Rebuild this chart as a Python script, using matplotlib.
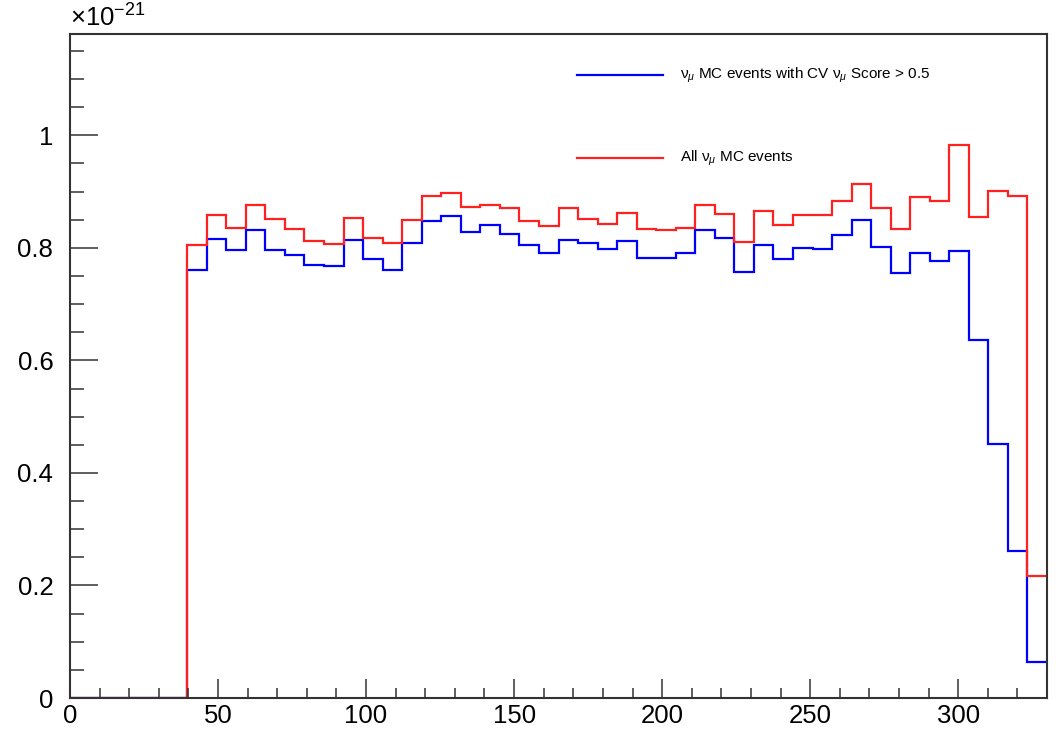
import numpy as np
import matplotlib
matplotlib.use('Agg')
import matplotlib.pyplot as plt
from matplotlib.ticker import MultipleLocator

plt.rcParams['font.family'] = ['Liberation Sans', 'DejaVu Sans']
plt.rcParams['mathtext.fontset'] = 'custom'
plt.rcParams['mathtext.rm'] = 'Liberation Sans'
plt.rcParams['mathtext.it'] = 'Liberation Sans:italic'

# --- histogram data (units of 1e-21), 50 bins from 0 to 330 ---
bin_edges = np.linspace(0, 330, 51)

all_events = [0, 0, 0, 0, 0, 0,
              0.805, 0.859, 0.836, 0.876, 0.851, 0.834, 0.812, 0.806, 0.853, 0.818,
              0.809, 0.850, 0.892, 0.898, 0.873, 0.877, 0.870, 0.847, 0.838, 0.870,
              0.852, 0.842, 0.862, 0.834, 0.832, 0.835, 0.877, 0.860, 0.811, 0.865,
              0.841, 0.859, 0.858, 0.883, 0.914, 0.871, 0.834, 0.890, 0.884, 0.982,
              0.854, 0.901, 0.892, 0.217]

score_cut = [0, 0, 0, 0, 0, 0,
             0.760, 0.815, 0.797, 0.831, 0.797, 0.787, 0.770, 0.767, 0.814, 0.780,
             0.761, 0.809, 0.848, 0.856, 0.829, 0.841, 0.825, 0.805, 0.790, 0.814,
             0.809, 0.798, 0.812, 0.782, 0.782, 0.791, 0.832, 0.818, 0.757, 0.805,
             0.780, 0.800, 0.798, 0.823, 0.850, 0.801, 0.756, 0.790, 0.776, 0.795,
             0.636, 0.452, 0.261, 0.064]

label_cut = r'$\mathrm{\nu}_{\mu}$ MC events with CV $\mathrm{\nu}_{\mu}$ Score > 0.5'
label_all = r'All $\mathrm{\nu}_{\mu}$ MC events'

fig = plt.figure(figsize=(10.56, 7.34), dpi=100)
ax = fig.add_axes([70/1056, 1 - 698/734, 977/1056, 664/734])

ax.stairs(score_cut, bin_edges, color='#0000ff', lw=1.6, baseline=None)
ax.stairs(all_events, bin_edges, color='#ff2020', lw=1.6, baseline=None)

ax.set_xlim(0, 330)
ax.set_ylim(0, 1.18)

ax.xaxis.set_major_locator(MultipleLocator(50))
ax.xaxis.set_minor_locator(MultipleLocator(10))
ax.yaxis.set_major_locator(MultipleLocator(0.2))
ax.yaxis.set_minor_locator(MultipleLocator(0.05))
ax.yaxis.set_major_formatter(plt.FuncFormatter(lambda v, p: f'{v:g}'))

ax.tick_params(axis='both', which='both', direction='in', color='#333333', width=1.1,
               labelsize=18.5, top=False, right=False)
ax.tick_params(axis='y', which='major', length=20, pad=12)
ax.tick_params(axis='y', which='minor', length=10)
ax.tick_params(axis='x', which='major', length=14, pad=4)
ax.tick_params(axis='x', which='minor', length=7)
for s in ax.spines.values():
    s.set_color('#333333')
    s.set_linewidth(1.5)

ax.text(0, 1.004, r'$\times10^{-21}$', transform=ax.transAxes, ha='left', va='bottom', fontsize=18.5)

# legend drawn by hand (no frame)
for y, col, lab in [(0.938, '#0000ff', label_cut), (0.813, '#ff2020', label_all)]:
    ax.plot([0.519, 0.607], [y, y], color=col, lw=1.6, transform=ax.transAxes)
    ax.text(0.624, y, lab, transform=ax.transAxes, ha='left', va='center', fontsize=11)

fig.savefig('out.png', dpi=100)
